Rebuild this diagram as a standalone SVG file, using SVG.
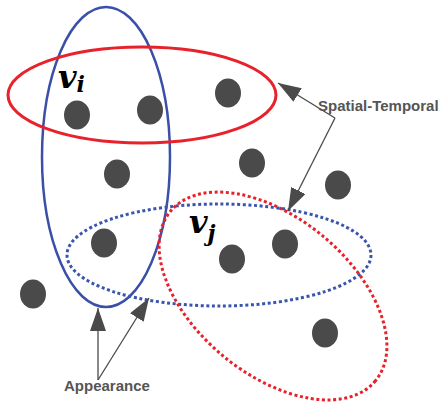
<svg xmlns="http://www.w3.org/2000/svg" width="443" height="406" viewBox="0 0 443 406">
<defs>
<style>
.dot{fill:#4a4a4a}
.bs{fill:none;stroke:#3a4fa8;stroke-width:2.5}
.rs{fill:none;stroke:#e8212b;stroke-width:3}
.bd{fill:none;stroke:#3a55ae;stroke-width:3;stroke-dasharray:3 2.6}
.rd{fill:none;stroke:#e8212b;stroke-width:3;stroke-dasharray:3 2.6}
.ln{fill:none;stroke:#4a4a4a;stroke-width:1.3}
.lbl{font-family:"Liberation Sans",Arial,sans-serif;font-weight:bold;font-size:15px;fill:#555}
.math{font-family:"DejaVu Serif","Liberation Serif",serif;font-style:italic;font-weight:bold;fill:#000}
</style>
<marker id="ah" markerWidth="24" markerHeight="16" refX="23" refY="8" orient="auto" markerUnits="userSpaceOnUse">
<path d="M0,0 L23,8 L0,16 Z" fill="#4a4a4a"/>
</marker>
</defs>
<rect width="443" height="406" fill="#fff"/>
<g id="dots">
<ellipse class="dot" cx="77" cy="115" rx="13" ry="14.5"/>
<ellipse class="dot" cx="150" cy="110" rx="13" ry="14.5"/>
<ellipse class="dot" cx="228" cy="93" rx="13" ry="14.5"/>
<ellipse class="dot" cx="117" cy="174" rx="13" ry="14.5"/>
<ellipse class="dot" cx="252" cy="163" rx="13" ry="14.5"/>
<ellipse class="dot" cx="338" cy="185" rx="13" ry="14.5"/>
<ellipse class="dot" cx="104" cy="243" rx="13" ry="14.5"/>
<ellipse class="dot" cx="285" cy="244" rx="13" ry="14.5"/>
<ellipse class="dot" cx="232" cy="259" rx="13" ry="14.5"/>
<ellipse class="dot" cx="33" cy="294" rx="13" ry="14.5"/>
<ellipse class="dot" cx="325" cy="333" rx="13" ry="14.5"/>
</g>
<g id="blue-solid"><ellipse class="bs" cx="106" cy="157" rx="64" ry="150"/></g>
<g id="red-solid"><ellipse class="rs" cx="142" cy="95" rx="134" ry="48"/></g>
<g id="blue-dotted"><ellipse class="bd" cx="219" cy="255" rx="152" ry="51"/></g>
<g id="red-dotted"><ellipse class="rd" cx="273" cy="296" rx="133" ry="78" transform="rotate(39.6 273 296)"/></g>
<g id="vi"><text class="math" x="58" y="88" font-size="32">v<tspan font-size="22" dy="4">i</tspan></text></g>
<g id="vj"><text class="math" x="189" y="233" font-size="32">v<tspan font-size="22" dy="8">j</tspan></text></g>
<g id="connectors">
<line class="ln" x1="335" y1="118" x2="278" y2="83" marker-end="url(#ah)"/>
<line class="ln" x1="335" y1="118" x2="288" y2="211" marker-end="url(#ah)"/>
<line class="ln" x1="98" y1="380" x2="98" y2="308" marker-end="url(#ah)"/>
<line class="ln" x1="98" y1="380" x2="149" y2="298" marker-end="url(#ah)"/>
</g>
<g id="label-st"><text class="lbl" x="318" y="111">Spatial-Temporal</text></g>
<g id="label-app"><text class="lbl" x="64" y="391">Appearance</text></g>
</svg>
